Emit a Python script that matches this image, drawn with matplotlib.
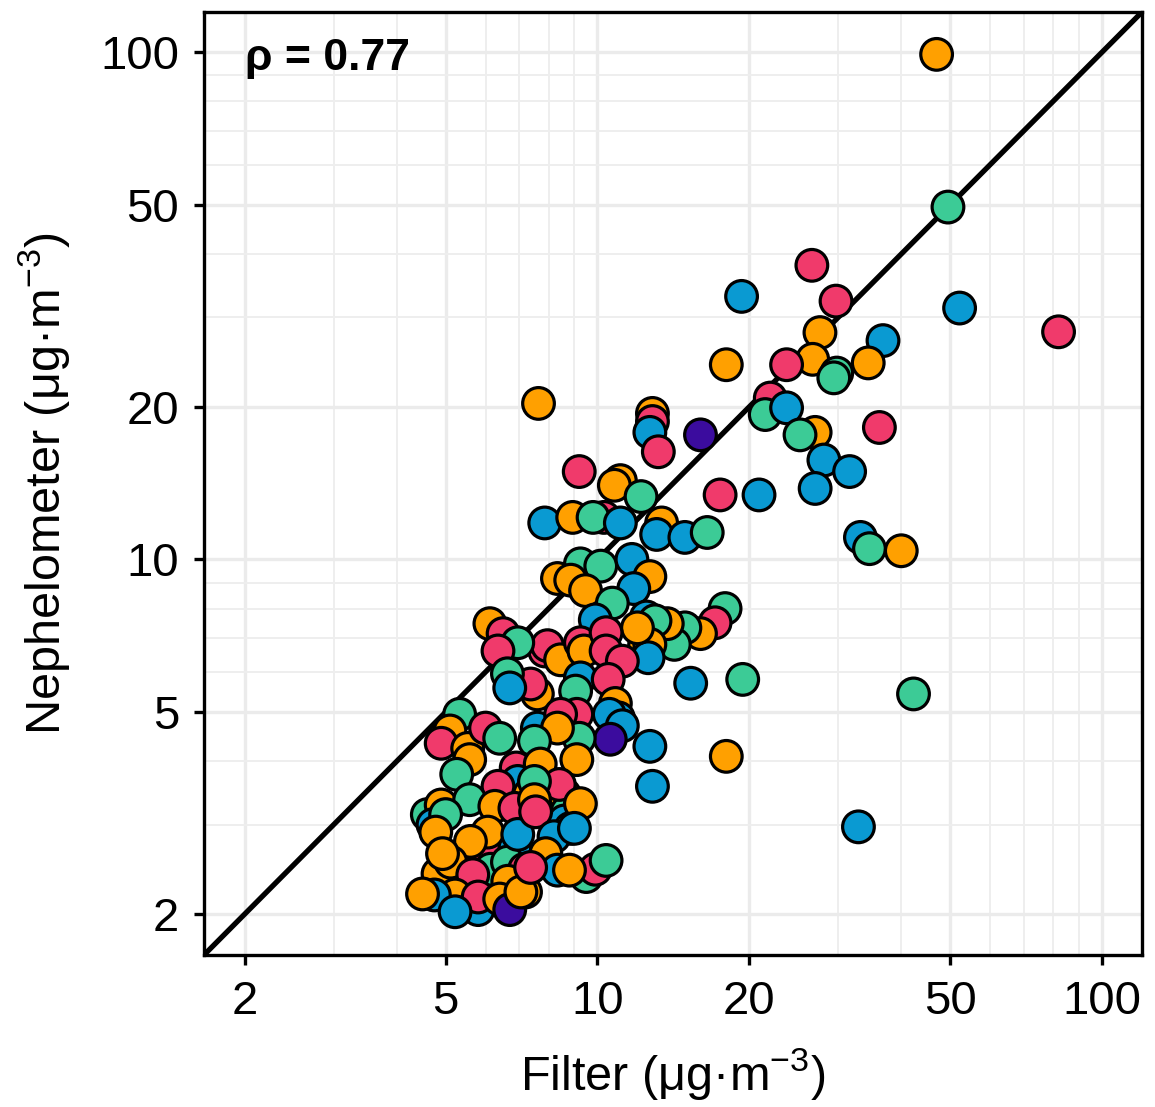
import matplotlib.pyplot as plt
from matplotlib.ticker import FixedLocator, NullFormatter

plt.rcParams['font.family'] = ['Liberation Sans', 'DejaVu Sans']
plt.rcParams['mathtext.fontset'] = 'custom'
plt.rcParams['mathtext.rm'] = 'Liberation Sans'
plt.rcParams['mathtext.it'] = 'Liberation Sans:italic'
plt.rcParams['mathtext.bf'] = 'Liberation Sans:bold'

# site colours
palette = {'O': '#FFA000', 'P': '#F03A6B', 'B': '#0A9AD2', 'G': '#3CCB96', 'V': '#3B0C9E'}

# filter vs nephelometer PM2.5 (ug/m3)
filter_pm = [
    47, 49.5, 26.6, 19.3, 29.7, 52.2, 82, 27.6, 36.8, 26.7,
    18, 23.7, 34.4, 29.8, 29.4, 22.0, 21.5, 23.7, 7.64, 12.85,
    12.85, 12.7, 13.2, 16.0, 36.2, 27, 25.2, 28.1, 31.6, 27,
    20.9, 17.5, 9.2, 11.1, 10.8, 12.2, 7.86, 8.93, 10.3, 9.8,
    11.1, 13.4, 13.1, 14.9, 16.5, 33.2, 34.6, 40, 9.25, 10.15,
    11.7, 8.33, 8.85, 9.47, 12.7, 11.8, 10.7, 17.9, 17.1, 16.0,
    14.9, 14.2, 13.75, 12.5, 13.0, 12.4, 12.7, 12.6, 12.0, 15.3,
    19.4, 42.3, 12.7, 18, 12.85, 32.9,
    9.9, 7.86, 7.96, 8.45, 9.25, 9.4, 10.4, 10.4, 11.2, 9.25,
    9.05, 10.5, 10.85, 11.0, 10.55, 11.2, 10.6, 9.1, 9.2, 7.6,
    7.6, 7.37, 8.45, 8.33, 7.5,
    6.12, 6.5, 6.95, 6.35, 6.63, 6.7, 5.33, 5.1, 4.9, 5.53,
    6.0, 6.4, 5.58,
    4.6, 4.9, 6.95, 7.05, 7.37, 6.9, 6.95, 7.33, 8.6, 8.7,
    8.6, 8.85, 5.97, 6.14, 6.86, 6.63, 5.8, 4.72,
    5.26, 6.35, 5.58, 6.26, 6.86, 5.0, 4.78, 6.06, 5.6, 6.95,
    7.17, 4.83, 5.12, 5.66, 6.64, 5.22, 5.8, 6.4, 4.75, 4.5,
    5.22, 6.7, 7.2, 4.93, 7.05,
    7.7, 9.1, 8.4, 9.25, 7.5, 7.5, 7.54, 8.2, 9.0, 7.9,
    8.33, 9.5, 9.9, 10.4, 7.37, 8.8,
]
neph_pm = [
    99, 49.5, 38, 33, 32.3, 31.3, 28.1, 28, 27, 24.8,
    24.2, 24.2, 24.4, 23.3, 22.8, 20.8, 19.3, 19.9, 20.3, 19.4,
    18.7, 17.8, 16.3, 17.6, 18.2, 17.8, 17.6, 15.7, 14.9, 13.8,
    13.4, 13.4, 14.9, 14.3, 14.0, 13.3, 11.8, 12.1, 12.1, 12.1,
    11.8, 11.8, 11.2, 11.05, 11.3, 11.05, 10.5, 10.4, 9.8, 9.7,
    10.0, 9.17, 9.1, 8.68, 9.25, 8.76, 8.2, 8.0, 7.5, 7.14,
    7.33, 6.8, 7.47, 7.7, 7.57, 6.8, 6.8, 6.4, 7.33, 5.7,
    5.8, 5.43, 4.28, 4.09, 3.57, 2.97,
    7.6, 6.6, 6.76, 6.34, 6.85, 6.6, 7.17, 6.6, 6.3, 5.84,
    5.5, 5.8, 5.2, 4.87, 4.95, 4.7, 4.42, 4.95, 4.44, 5.43,
    4.65, 5.68, 4.95, 4.65, 4.38,
    7.47, 7.14, 6.85, 6.6, 5.95, 5.58, 4.95, 4.59, 4.34, 4.24,
    4.65, 4.44, 4.03,
    3.14, 3.28, 3.68, 3.86, 3.7, 3.88, 3.65, 3.44, 3.44, 3.18,
    3.05, 2.95, 2.7, 2.45, 2.7, 2.53, 2.04, 3.0,
    3.77, 3.57, 3.36, 3.26, 3.23, 3.14, 2.9, 2.9, 2.78, 2.87,
    2.45, 2.4, 2.53, 2.39, 2.32, 2.18, 2.16, 2.14, 2.18, 2.19,
    2.02, 2.04, 2.21, 2.63, 2.21,
    3.95, 4.03, 3.6, 3.3, 3.65, 3.36, 3.18, 2.84, 2.95, 2.63,
    2.44, 2.37, 2.45, 2.55, 2.47, 2.44,
]
site = [
    'O', 'G', 'P', 'B', 'P', 'B', 'P', 'O', 'B', 'O',
    'O', 'P', 'O', 'G', 'G', 'P', 'G', 'B', 'O', 'O',
    'P', 'B', 'P', 'V', 'P', 'O', 'G', 'B', 'B', 'B',
    'B', 'P', 'P', 'O', 'O', 'G', 'B', 'O', 'P', 'G',
    'B', 'O', 'B', 'B', 'G', 'B', 'G', 'O', 'G', 'G',
    'B', 'O', 'O', 'O', 'O', 'B', 'G', 'G', 'P', 'O',
    'G', 'G', 'O', 'B', 'G', 'O', 'O', 'B', 'O', 'B',
    'G', 'G', 'B', 'O', 'B', 'B',
    'B', 'P', 'P', 'O', 'P', 'O', 'P', 'P', 'P', 'B',
    'G', 'P', 'O', 'B', 'B', 'B', 'V', 'P', 'G', 'O',
    'B', 'P', 'P', 'O', 'G',
    'O', 'P', 'G', 'P', 'G', 'B', 'G', 'O', 'P', 'O',
    'P', 'G', 'O',
    'G', 'O', 'B', 'P', 'G', 'P', 'B', 'O', 'O', 'G',
    'B', 'B', 'P', 'G', 'B', 'G', 'B', 'B',
    'G', 'P', 'G', 'O', 'P', 'G', 'O', 'O', 'O', 'B',
    'P', 'O', 'O', 'P', 'O', 'O', 'P', 'O', 'B', 'O',
    'B', 'V', 'O', 'O', 'O',
    'O', 'O', 'P', 'O', 'G', 'O', 'P', 'B', 'B', 'O',
    'B', 'G', 'P', 'G', 'P', 'O',
]

ticks = [2, 5, 10, 20, 50, 100]
tick_labels = ['2', '5', '10', '20', '50', '100']
minor = [3, 4, 6, 7, 8, 9, 30, 40, 60, 70, 80, 90]
lims = (1.66, 120)

fig = plt.figure(figsize=(11.55, 11.07), dpi=100)
ax = fig.add_axes([204 / 1155, 1 - 955 / 1107, 938 / 1155, 943 / 1107])
ax.set_xscale('log')
ax.set_yscale('log')

ax.plot([1, 200], [1, 200], color='black', lw=3.8, zorder=2, solid_capstyle='butt')
ax.scatter(filter_pm, neph_pm, s=520, c=[palette[k] for k in site],
           edgecolors='black', linewidths=2.3, zorder=3)

ax.set_xlim(lims)
ax.set_ylim(lims)
for axis in (ax.xaxis, ax.yaxis):
    axis.set_major_locator(FixedLocator(ticks))
    axis.set_minor_locator(FixedLocator(minor))
    axis.set_minor_formatter(NullFormatter())
ax.set_xticklabels(tick_labels)
ax.set_yticklabels(tick_labels)

ax.grid(which='major', color='#EBEBEB', lw=2.4, zorder=0)
ax.grid(which='minor', color='#EEEEEE', lw=1.4, zorder=0)
ax.set_axisbelow(True)

ax.tick_params(which='major', length=7, width=2.4, labelsize=34, pad=11, color='black')
ax.tick_params(which='minor', length=0)
for sp in ax.spines.values():
    sp.set_linewidth(2.4)

ax.set_xlabel('Filter (μg·m$\\mathregular{^{-3}}$)', fontsize=35, labelpad=16)
ax.set_ylabel('Nephelometer (μg·m$\\mathregular{^{-3}}$)', fontsize=35, labelpad=20)

ax.text(2.0, 97, 'ρ = 0.77', fontsize=32, fontweight='bold', ha='left', va='center')

fig.savefig('out.png', dpi=100)
